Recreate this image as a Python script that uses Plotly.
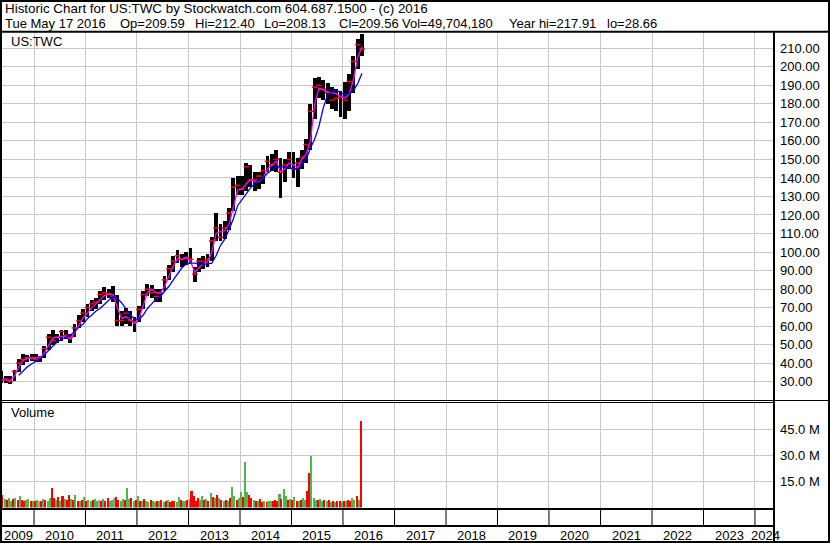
import plotly.graph_objects as go
import pandas as pd

# ---------------- data ----------------
symbol = "US:TWC"
header_title = "Historic Chart for US:TWC by Stockwatch.com 604.687.1500 - (c) 2016"
header_fields = ["Tue May 17 2016", "Op=209.59", "Hi=212.40", "Lo=208.13", "Cl=209.56",
                 "Vol=49,704,180", "Year hi=217.91", "lo=28.66"]
volume_title = "Volume"
year_labels = ["2009", "2010", "2011", "2012", "2013", "2014", "2015", "2016", "2017",
               "2018", "2019", "2020", "2021", "2022", "2023", "2024"]
vol_tick_values = [15e6, 30e6, 45e6]
vol_tick_labels = ["15.0 M", "30.0 M", "45.0 M"]

# monthly bars, May 2009 .. May 2016
month_start = "2009-05-01"
price_high = [36, 33, 33, 36.5, 42, 45, 44.5, 45,
              45, 44, 49, 56, 58, 56, 58, 58, 56, 61, 66, 69,
              72, 74, 75, 79, 81, 80, 81.5, 77, 68, 70, 68, 65,
              71, 79, 83, 82, 80, 80, 87, 93, 98, 101, 99, 100,
              102, 92, 97, 98, 99, 108, 121, 115, 117, 124, 140, 141,
              141, 148, 147, 143, 143, 147, 152, 153, 155, 151, 150, 154,
              154, 151, 155, 161, 180, 194, 194.5, 193, 191, 189, 188, 187,
              192, 196, 206, 215, 217.9]
price_low = [29.5, 29.5, 28.7, 30.5, 35, 39, 40.5, 41,
             40.5, 40.5, 43, 47, 50, 51, 52, 53, 51, 54, 59, 62,
             65, 68, 69, 72, 74, 75, 73, 60, 60, 61, 60, 57,
             62, 69, 76, 75, 73, 73, 79, 85, 89, 94, 92, 93,
             94, 84, 89, 91, 92, 95, 106, 106, 107, 112, 122, 131,
             131, 133, 135, 133, 134, 137, 143, 144, 143, 129, 138, 145,
             140, 135, 145, 148, 155, 172, 183, 182, 180, 177, 176, 173,
             172, 176, 186, 199, 206]
price_close = [31, 31.5, 30, 35.5, 40, 42, 43, 43,
               42, 43.5, 48, 54, 52, 54, 57, 55, 54, 59, 63, 67,
               70, 72, 73, 77, 78, 77, 76, 63, 63, 67, 63, 62,
               69, 77, 80, 78, 76, 78, 85, 91, 95, 98, 96, 97,
               96, 88, 95, 95, 96, 106, 113, 108, 113, 121, 135, 136,
               134, 146, 139, 139, 141, 144, 149, 147, 150, 143, 147, 150,
               145, 148, 151, 158, 176, 189, 190, 188, 186, 182, 183, 184,
               182, 192, 203, 212, 209.56]
ma_short = [31, 31, 30.5, 33, 38, 41.5, 42.5, 42.7,
            42.7, 43, 45.5, 50, 53.5, 54, 54.5, 54.5, 53, 56.5, 61, 64.5,
            67, 70, 72, 74.5, 76.5, 77.5, 77, 70, 64, 65, 63, 61.5,
            64, 71, 78, 80, 78, 78, 81.5, 87, 92.5, 96.5, 96, 97,
            95, 89, 91.5, 93.5, 94.5, 100, 110, 111, 111.5, 115, 125, 133.5,
            134, 137, 139, 138, 138, 140, 145, 147, 149, 143.5, 145, 148,
            147, 145.5, 150, 153, 160, 180, 188.5, 187.5, 186.5, 186, 185.5, 184,
            183, 185.5, 193, 205, 211]
ma_long = [None, None, None, None, 33.5, 36, 38, 39.5,
           41, 42.5, 44.5, 47, 49.5, 51.5, 53, 54, 55, 57, 59.5, 61,
           64, 66, 68, 69.5, 72, 74, 76, 75, 72.5, 69, 66, 64,
           63.5, 66, 69.5, 72, 74.5, 76, 78.5, 81.5, 85, 88.5, 91.5, 93.5,
           94, 94, 93.5, 93.5, 93.5, 94, 98, 103.5, 107, 112, 118, 125,
           128, 131.5, 134.5, 137, 138.5, 140, 142.5, 144.5, 146, 146, 146, 145.5,
           145, 144.5, 147, 150, 156, 161, 168, 178, 185, 186.5, 187.5, 186,
           185, 185.5, 187, 191, 196.5]

# semi-monthly volume (millions), May 2009 .. mid May 2016; direction u/d/n
vol_start = "2009-05-01"
volume_m = [5.5, 7.5, 5.0, 4.5, 5.2, 4.0, 4.8, 5.5, 4.2, 6.5, 4.5, 3.8, 4.6, 5.0, 3.5, 4.0,
            3.8, 4.5, 3.5, 4.0, 5.0, 4.2, 3.6, 5.5, 11.0, 5.2, 4.5, 5.8, 4.0, 6.5, 4.8, 4.4,
            7.0, 5.0, 4.1, 7.0, 4.0, 3.7, 4.5, 6.2,
            4.0, 4.6, 3.8, 4.3, 5.0, 3.6, 4.5, 3.9, 4.8, 4.0, 5.2, 3.8, 4.3, 5.6, 6.0, 4.6,
            4.0, 5.0, 4.5, 11.3, 4.8, 5.4, 4.0, 4.6,
            6.5, 4.0, 3.6, 4.8, 4.0, 3.4, 4.2, 3.8, 3.2, 4.0, 3.5, 4.4, 3.4, 3.9, 4.6, 3.2,
            3.7, 4.0, 3.4, 6.0, 4.2, 3.6, 3.9, 4.1,
            5.0, 9.6, 6.5, 4.0, 5.5, 4.5, 6.4, 4.2, 5.0, 3.8, 8.3, 6.0, 5.2, 7.0, 5.5, 4.2,
            3.8, 4.6, 4.0, 5.5, 12.0, 6.5, 4.5, 5.2,
            8.7, 5.8, 26.3, 9.0, 7.0, 5.2, 4.5, 4.0, 3.8, 5.0, 3.2, 3.6, 3.0, 4.0, 3.5, 3.8,
            4.2, 3.7, 7.7, 5.0, 10.8, 6.5, 4.6, 4.8,
            4.4, 6.2, 4.0, 3.8, 4.5, 5.2, 4.2, 9.6, 20.0, 30.0, 5.2, 4.6, 4.2, 4.8, 4.0, 4.5,
            3.6, 4.2, 3.0, 3.5, 3.2, 4.0, 3.7, 3.4,
            4.0, 3.8, 4.5, 4.0, 5.5, 4.4, 6.7, 4.6, 49.7]
volume_dir = (list("dduduudududduudu") +
              list("dundudu" "uddudududdudududu") +
              list("duuduundudduundduuduudud") +
              list("ududuuduududududdduuduud") +
              list("udddduudududududududuudu") +
              list("uduuddududduduuddduduudu") +
              list("dududuudduuuduududududdu") +
              list("dudduudud"))

# ---------------- helpers ----------------
W, H = 830, 543
def fx(x): return x / W
def fy(y): return 1 - y / H

DAY_MS = 86400000
FONT = "Liberation Sans, Arial, sans-serif"
GRID = "#c8c8c8"
X_RANGE = ["2009-05-19", "2024-05-15"]

months = pd.date_range(month_start, periods=len(price_high), freq="MS") + pd.Timedelta(days=14)
vol_dates = pd.date_range(vol_start, periods=len(volume_m), freq="SMS") + pd.Timedelta(days=7)
dir_color = {"u": "#4cb84c", "d": "#ff0000", "n": "#a0a0a0"}

fig = go.Figure()
fig.add_trace(go.Bar(x=months, y=[h - l for h, l in zip(price_high, price_low)], base=price_low,
                     width=27 * DAY_MS, marker=dict(color="black", line=dict(width=0)),
                     xaxis="x", yaxis="y", hoverinfo="skip"))
fig.add_trace(go.Scatter(x=months, y=price_close, mode="markers",
                         marker=dict(symbol="line-ew", size=4, line=dict(color="#ff0000", width=1.5)),
                         xaxis="x", yaxis="y", hoverinfo="skip"))
fig.add_trace(go.Scatter(x=months, y=ma_short, mode="lines", line=dict(color="#ff00ff", width=1.3),
                         xaxis="x", yaxis="y", hoverinfo="skip"))
fig.add_trace(go.Scatter(x=months, y=ma_long, mode="lines", line=dict(color="#0000ff", width=1.3),
                         xaxis="x", yaxis="y", hoverinfo="skip"))
fig.add_trace(go.Bar(x=vol_dates, y=[v * 1e6 for v in volume_m], width=14.5 * DAY_MS,
                     marker=dict(color=[dir_color[d] for d in volume_dir], line=dict(width=0)),
                     xaxis="x2", yaxis="y2", hoverinfo="skip"))

xcommon = dict(range=X_RANGE, domain=[fx(2), fx(774)], showgrid=True, gridcolor=GRID, gridwidth=1,
               dtick="M12", tick0="2010-01-01", showticklabels=False, ticks="", zeroline=False,
               showline=False, fixedrange=True)
tickfont = dict(family=FONT, size=13, color="black")
fig.update_layout(
    width=W, height=H, margin=dict(l=0, r=0, t=0, b=0),
    paper_bgcolor="white", plot_bgcolor="white", showlegend=False, bargap=0,
    xaxis=dict(anchor="y", **xcommon),
    xaxis2=dict(anchor="y2", matches="x", **xcommon),
    yaxis=dict(anchor="x", domain=[fy(400), fy(32)], range=[20.1, 218.8], side="right",
               dtick=10, tick0=0, tickformat=".2f", showgrid=True, gridcolor=GRID,
               ticks="", zeroline=False, showline=False, tickfont=tickfont,
               ticklabelstandoff=5, automargin=False, fixedrange=True),
    yaxis2=dict(anchor="x2", domain=[fy(507.5), fy(402)], range=[0, 60.87e6], side="right",
                tickvals=vol_tick_values, ticktext=vol_tick_labels, showgrid=True, gridcolor=GRID,
                ticks="", zeroline=False, showline=False, tickfont=tickfont,
                ticklabelstandoff=5, automargin=False, fixedrange=True),
)

ann = []
def text(x, y, s, anchor="left", xref="paper", xshift=0, size=13):
    ann.append(dict(x=x, y=fy(y), xref=xref, yref="paper", text=s, showarrow=False,
                    xanchor=anchor, yanchor="middle", xshift=xshift,
                    font=dict(family=FONT, size=size, color="black")))

text(fx(3), 8.5, header_title, size=13.4)
header_x = [3, 118, 193, 262, 337, 400, 507, 605]
for s, x in zip(header_fields, header_x):
    text(fx(x), 23.5, s)
text(fx(9), 41.5, symbol)
text(fx(9), 413, volume_title)
for i, yl in enumerate(year_labels):
    if i == 0:
        text(fx(2), 535, yl)
    elif i == len(year_labels) - 1:
        text(fx(749), 535, yl)
    else:
        text(f"{yl}-01-01", 535, yl, xref="x", xshift=9)
fig.update_layout(annotations=ann)

shapes = []
def line(x0, y0, x1, y1, w=1, xref="paper"):
    shapes.append(dict(type="line", xref=xref, yref="paper", x0=x0, x1=x1, y0=fy(y0), y1=fy(y1),
                       line=dict(color="black", width=w)))

shapes.append(dict(type="rect", xref="paper", yref="paper", x0=fx(1), x1=fx(829), y0=fy(1), y1=fy(542),
                   line=dict(color="black", width=2)))
line(fx(0), 31.7, fx(830), 31.7, 2)
line(fx(774), 31, fx(774), 543, 2)
line(fx(0), 400.5, fx(830), 400.5, 1)
line(fx(0), 402.5, fx(774), 402.5, 1)
line(fx(0), 509, fx(774), 509, 2)
line(fx(0), 526, fx(774), 526, 2)
for yl in year_labels[1:]:
    line(f"{yl}-01-01", 510, f"{yl}-01-01", 525, 1, xref="x")
fig.update_layout(shapes=shapes)

fig.write_html("out.html", config={"displayModeBar": False, "staticPlot": True},
               post_script="document.body.style.margin='0px';document.body.style.overflow='hidden';")
